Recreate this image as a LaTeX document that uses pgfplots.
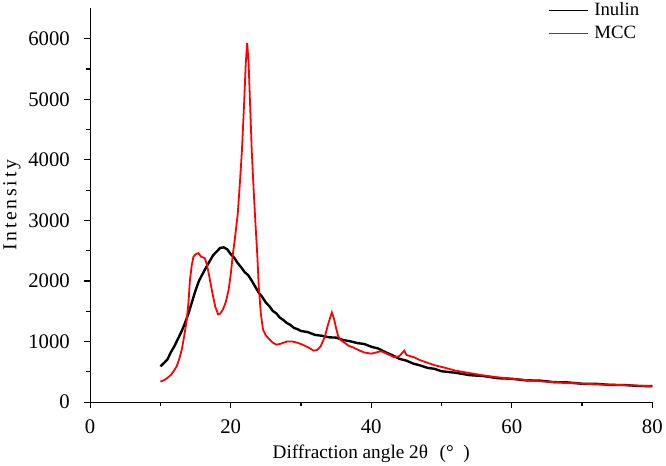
\documentclass[border=0pt]{standalone}
\usepackage{pgfplots}
\pgfplotsset{compat=1.18}
\usepackage{fontspec}
\setmainfont{Liberation Serif}
\newfontfamily\spaced[LetterSpace=14]{Liberation Serif}
\begin{document}
\begin{tikzpicture}
\begin{axis}[
  scale only axis,
  width=567bp, height=397bp,
  xmin=0, xmax=80, ymin=0, ymax=6500,
  axis lines=left,
  axis line style={-, line width=1.2bp, black},
  tick align=outside,
  tick style={line width=1.2bp, black},
  major tick length=6bp, minor tick length=4bp,
  xtick={0,20,...,80}, minor x tick num=1,
  ytick={0,1000,...,6000}, minor y tick num=1,
  /pgf/number format/assume math mode=true,
  /pgf/number format/1000 sep={},
  tick label style={font=\fontsize{21}{24}\selectfont},
  xticklabel style={yshift=-8bp},
  yticklabel style={xshift=-11bp},
  xlabel={Diffraction angle 2θ\hspace{0.6em}(°\hspace{0.5em})},
  ylabel={Intensity},
  xlabel style={font=\fontsize{19.5}{22}\selectfont, at={(axis description cs:0.5,-0.131)}, anchor=center},
  ylabel style={font=\spaced\fontsize{20}{23}\selectfont, at={(axis description cs:-0.139,0.5)}, anchor=center},
  legend style={at={(rel axis cs:0.812,1.022)}, anchor=north west, draw=none, fill=none,
    font=\fontsize{19}{22}\selectfont, row sep=5bp, inner sep=1bp},
  legend cell align=left,
  legend image code/.code={\draw[#1, line width=1.4bp] (0bp,0bp) -- (40bp,0bp); \path (43bp,0bp);},
]
\addplot[black, line width=2.4bp] coordinates {
(10,590) (10.5,645) (11,705) (11.5,825) (12,925) (12.5,1045) (13,1165) (13.5,1305) (14,1465) (14.5,1655) (15,1845) (15.5,2005) (16,2115) (16.5,2225) (17,2325) (17.5,2425) (18,2485) (18.5,2545) (19,2555) (19.5,2525) (20,2445) (20.5,2385) (21,2295) (21.5,2225) (22,2145) (22.5,2095) (23,2005) (23.5,1905) (24,1805) (24.5,1735) (25,1645) (25.5,1585) (26,1505) (26.5,1465) (27,1395) (27.5,1355) (28,1305) (28.5,1275) (29,1225) (29.5,1205) (30,1175) (31,1155) (32,1110) (33,1095) (34,1070) (35,1065) (36,1025) (37,1005) (38,975) (39,960) (40,915) (41,885) (42,825) (43,775) (44,715) (45,685) (46,635) (47,605) (48,565) (49,550) (50,510) (52,485) (54,445) (56,430) (58,395) (60,385) (62,360) (64,355) (66,330) (68,325) (70,303) (72,302) (74,284) (76,283) (78,266) (80,264)
};
\addlegendentry{Inulin}
\addplot[red, line width=1.8bp] coordinates {
(10,340) (10.5,360) (11,400) (11.5,450) (12,530) (12.35,600) (12.7,720) (13.05,870) (13.4,1100) (13.75,1360) (14,1650) (14.2,2010) (14.45,2250) (14.7,2400) (15,2440) (15.4,2460) (15.8,2400) (16.3,2380) (16.6,2280) (17,2050) (17.4,1800) (17.8,1580) (18.2,1450) (18.5,1460) (18.9,1530) (19.3,1650) (19.7,1850) (20,2100) (20.3,2430) (20.6,2700) (21,3100) (21.3,3600) (21.6,4150) (21.9,4900) (22.15,5600) (22.35,5930) (22.55,5600) (22.8,4800) (23,4150) (23.25,3550) (23.5,3000) (23.8,2400) (24,1900) (24.3,1450) (24.6,1200) (25,1100) (25.5,1040) (26,980) (26.5,950) (27,960) (27.5,980) (28,1000) (28.8,1000) (29.5,980) (30.2,950) (31.1,900) (31.8,850) (32.3,860) (32.8,920) (33.4,1080) (33.9,1300) (34.4,1480) (34.7,1380) (35,1220) (35.3,1090) (35.6,1030) (36.2,980) (36.8,930) (37.5,900) (38.2,860) (39,820) (40,800) (40.7,820) (41.4,840) (42.2,800) (43.3,740) (44,760) (44.7,850) (45,780) (45.5,760) (46.1,740) (47,690) (48,650) (49,610) (50.4,570) (52,520) (54,480) (56,440) (58,410) (60,385) (62,365) (64,345) (66,330) (68,318) (70,305) (72,295) (74,288) (76,280) (78,272) (80,262)
};
\addlegendentry{MCC}
\end{axis}
\end{tikzpicture}
\end{document}
